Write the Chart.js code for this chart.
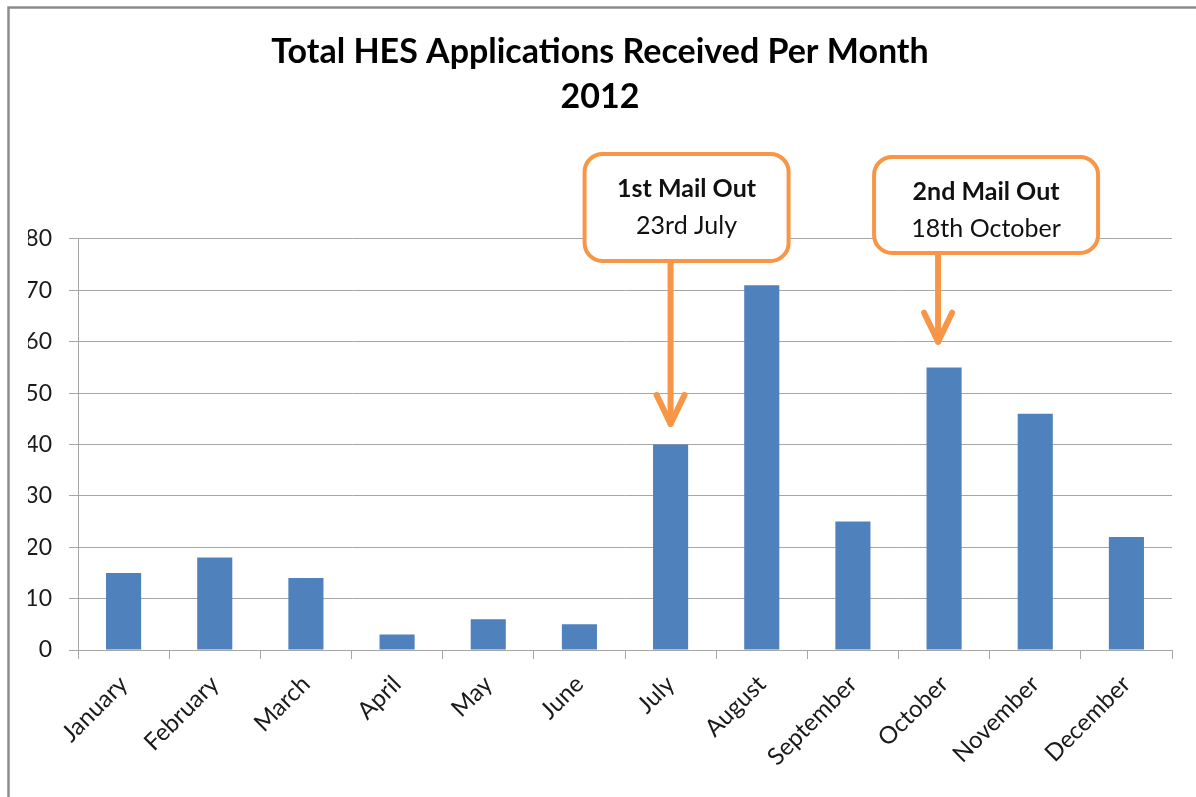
<!DOCTYPE html>
<html>
<head>
<meta charset="utf-8">
<script src="https://cdn.jsdelivr.net/npm/chart.js@4.4.1/dist/chart.umd.min.js"></script>
<style>
  html, body { margin: 0; padding: 0; background: #fff; }
</style>
</head>
<body>
<canvas id="myChart" width="1196" height="797"></canvas>
<script>
const months = [
    'January', 'February', 'March', 'April', 'May', 'June',
    'July', 'August', 'September', 'October', 'November', 'December'
];
const applications = [15, 18, 14, 3, 6, 5, 40, 71, 25, 55, 46, 22];
const titleLines = ['Total HES Applications Received Per Month', '2012'];

// callouts
const calloutHeads = ['1st Mail Out', '2nd Mail Out'];
const calloutDates = ['23rd July', '18th October'];
const calloutMonths = ['July', 'October'];
const arrowTipValues = [44, 60];

const gridGrey = '#A6A6A6';
const orange = '#F79646';

// box geometry relative to arrow x / chart area top
const calloutBoxes = [
    {dx: 0, left: -86, width: 204, top: -85, height: 107},
    {dx: -6, left: -64, width: 224, top: -82, height: 96}
];

const framePlugin = {
    id: 'frame',
    beforeDraw(chart) {
        const ctx = chart.ctx;
        ctx.save();
        ctx.fillStyle = '#fff';
        ctx.fillRect(0, 0, chart.width, chart.height);
        ctx.strokeStyle = '#8c8c8c';
        ctx.lineWidth = 2.5;
        ctx.beginPath();
        ctx.moveTo(8.5, chart.height);
        ctx.lineTo(8.5, 7.5);
        ctx.lineTo(chart.width, 7.5);
        ctx.stroke();
        ctx.restore();
    }
};

const calloutPlugin = {
    id: 'callouts',
    afterDatasetsDraw(chart) {
        const ctx = chart.ctx;
        const xs = chart.scales.x, ys = chart.scales.y;
        const top = chart.chartArea.top;
        ctx.save();
        ctx.strokeStyle = orange;
        ctx.lineCap = 'round';
        ctx.lineJoin = 'round';
        calloutMonths.forEach((m, i) => {
            const g = calloutBoxes[i];
            const ax = xs.getPixelForValue(months.indexOf(m)) + g.dx;
            const bx = ax + g.left, by = top + g.top;
            const tipY = ys.getPixelForValue(arrowTipValues[i]);
            // arrow
            ctx.lineWidth = 6;
            ctx.beginPath();
            ctx.moveTo(ax, by + g.height);
            ctx.lineTo(ax, tipY);
            ctx.stroke();
            ctx.beginPath();
            ctx.moveTo(ax - 14, tipY - 29);
            ctx.lineTo(ax, tipY);
            ctx.lineTo(ax + 14, tipY - 29);
            ctx.stroke();
            // box
            ctx.lineWidth = 4;
            ctx.fillStyle = '#fff';
            ctx.beginPath();
            ctx.roundRect(bx, by, g.width, g.height, 18);
            ctx.fill();
            ctx.stroke();
            // text
            ctx.fillStyle = '#111';
            ctx.textAlign = 'center';
            ctx.textBaseline = 'middle';
            ctx.font = 'bold 25px Lato';
            ctx.fillText(calloutHeads[i], bx + g.width / 2, by + 35);
            ctx.font = '25px Lato';
            ctx.fillText(calloutDates[i], bx + g.width / 2, by + 72);
        });
        ctx.restore();
    }
};

Chart.defaults.font.family = 'Lato';

const config = {
    type: 'bar',
    data: {
        labels: months,
        datasets: [{
            label: 'Applications',
            data: applications,
            backgroundColor: '#4F81BD',
            categoryPercentage: 1,
            barPercentage: 0.385,
        }]
    },
    options: {
        responsive: false,
        animation: false,
        layout: {
            padding: {left: 28, right: 24, top: 0, bottom: 0}
        },
        plugins: {
            legend: {display: false},
            tooltip: {enabled: false},
            title: {
                display: true,
                text: titleLines,
                color: '#000',
                font: {size: 34, weight: 'bold', lineHeight: 1.33},
                padding: {top: 29.5, bottom: 119}
            }
        },
        scales: {
            x: {
                grid: {drawOnChartArea: false, color: gridGrey, tickLength: 9},
                border: {color: gridGrey},
                ticks: {color: '#1a1a1a', font: {size: 24}, minRotation: 45, maxRotation: 45, padding: 11},
                afterFit: function(scale) { scale.height = 147; }
            },
            y: {
                min: 0,
                max: 80,
                ticks: {stepSize: 10, color: '#1a1a1a', font: {size: 23}, padding: 17},
                grid: {color: gridGrey, tickLength: 9},
                border: {color: gridGrey},
                afterFit: function(scale) { scale.width = 50; }
            }
        }
    },
    plugins: [framePlugin, calloutPlugin]
};

const myChart = new Chart(document.getElementById('myChart'), config);
</script>
</body>
</html>
